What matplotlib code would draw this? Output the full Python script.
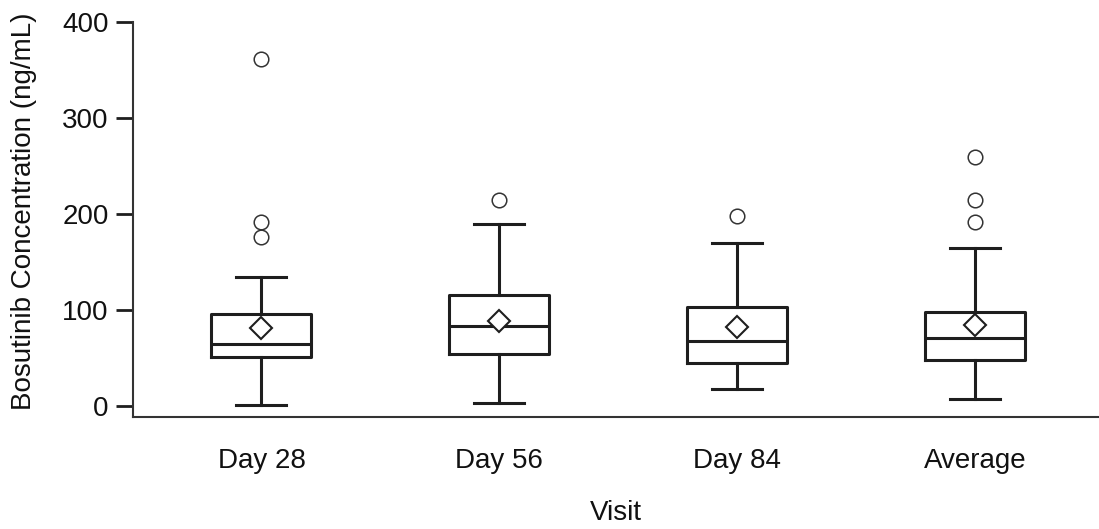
import matplotlib
matplotlib.use("Agg")
import matplotlib.pyplot as plt

plt.rcParams['font.family'] = ['Liberation Sans', 'DejaVu Sans']

# Summary statistics per visit (ng/mL)
visits = ["Day 28", "Day 56", "Day 84", "Average"]
whisker_low = [1, 3, 18, 7]
q1 = [51, 54, 45, 48]
median = [65, 83, 68, 71]
q3 = [96, 116, 103, 98]
whisker_high = [134, 190, 170, 165]
mean = [81, 89, 82, 84]
outliers = [[362, 192, 176], [215], [198], [259, 215, 192]]

line_color = "#1e1e1e"
text_color = "#111111"
fs = 20

stats = []
for i, name in enumerate(visits):
    stats.append(dict(label=name, whislo=whisker_low[i], q1=q1[i], med=median[i],
                      q3=q3[i], whishi=whisker_high[i], mean=mean[i],
                      fliers=outliers[i]))

fig = plt.figure(figsize=(10.99, 5.29), dpi=100)
ax = fig.add_axes([0.121, 0.2117, 0.879, 0.7463])

box_lw = 2.2
ax.bxp(stats, positions=[1, 2, 3, 4], widths=0.42, showmeans=True,
       showfliers=True, patch_artist=False,
       boxprops=dict(color=line_color, linewidth=box_lw),
       whiskerprops=dict(color=line_color, linewidth=box_lw),
       capprops=dict(color=line_color, linewidth=box_lw),
       capwidths=0.21,
       medianprops=dict(color=line_color, linewidth=box_lw),
       meanprops=dict(marker='D', markersize=11.5, markerfacecolor='white',
                      markeredgecolor=line_color, markeredgewidth=1.5),
       flierprops=dict(marker='o', markersize=10.5, markerfacecolor='white',
                       markeredgecolor='#333333', markeredgewidth=1.1))

ax.set_xlim(0.46, 4.52)
ax.set_ylim(-11.5, 400)
ax.set_yticks([0, 100, 200, 300, 400])

for side in ("top", "right"):
    ax.spines[side].set_visible(False)
for side in ("left", "bottom"):
    ax.spines[side].set_linewidth(1.5)
    ax.spines[side].set_color("#333333")

ax.tick_params(axis='y', length=12, width=2.0, color=line_color, pad=5.5,
               labelsize=fs, labelcolor=text_color)
ax.tick_params(axis='x', length=0, pad=22, labelsize=fs, labelcolor=text_color)

ax.set_xlabel("Visit", fontsize=fs, color=text_color, labelpad=19)
ax.set_ylabel("Bosutinib Concentration (ng/mL)", fontsize=fs, color=text_color)
ax.yaxis.set_label_coords(-0.099, 0.522)

fig.savefig("out.png", dpi=100)
